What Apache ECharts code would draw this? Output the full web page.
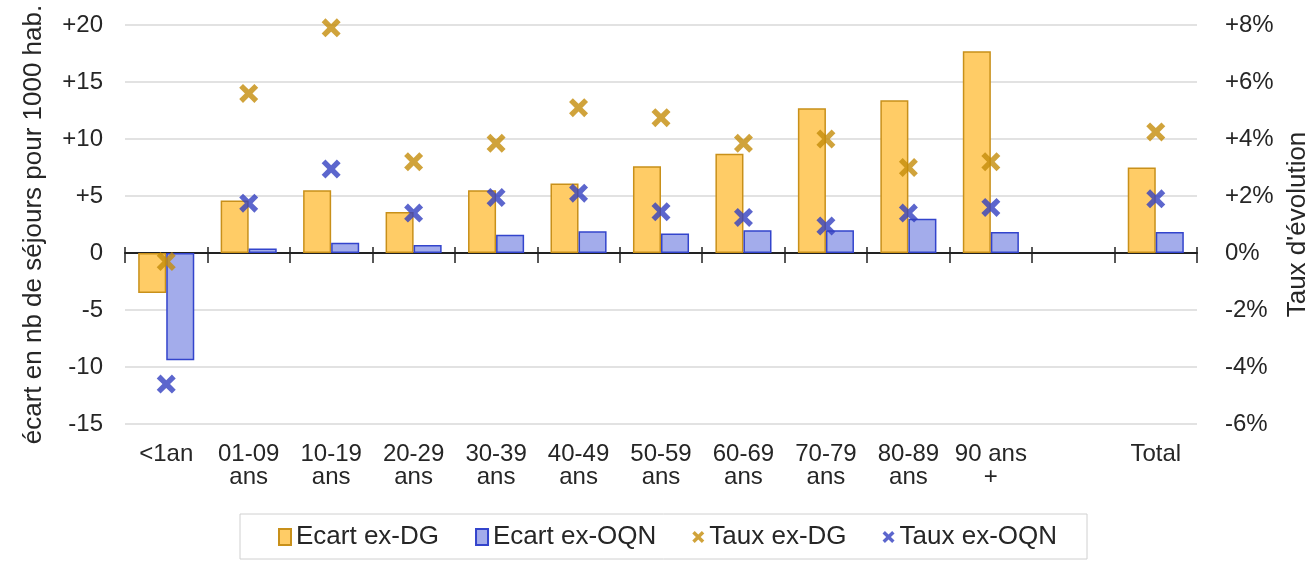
<!DOCTYPE html>
<html>
<head>
<meta charset="utf-8">
<script src="https://cdn.jsdelivr.net/npm/echarts@6/dist/echarts.min.js"></script>
<style>
  html, body { margin: 0; padding: 0; background: #fff; }
  #chart { width: 1316px; height: 562px; }
</style>
</head>
<body>
<div id="chart"></div>
<script>
// categories (the empty one is the gap before Total)
var categories = ['<1an', '01-09\nans', '10-19\nans', '20-29\nans', '30-39\nans', '40-49\nans',
  '50-59\nans', '60-69\nans', '70-79\nans', '80-89\nans', '90 ans\n+', '', 'Total'];

// écart en nb de séjours pour 1000 hab. (left axis)
var ecartDG  = [-3.5, 4.6, 5.5, 3.6, 5.5, 6.1, 7.6, 8.7, 12.7, 13.4, 17.7, null, 7.5];
var ecartOQN = [-9.4, 0.4, 0.9, 0.7, 1.6, 1.9, 1.7, 2.0, 2.0, 3.0, 1.85, null, 1.85];

// taux d'évolution en % (right axis)
var tauxDG  = [-0.3, 5.6, 7.9, 3.2, 3.85, 5.1, 4.75, 3.85, 4.0, 3.0, 3.2, null, 4.25];
var tauxOQN = [-4.6, 1.75, 2.95, 1.4, 1.95, 2.1, 1.45, 1.25, 0.95, 1.4, 1.6, null, 1.9];

var leftTicks = {min: -15, max: 20, interval: 5};
var rightTicks = {min: -6, max: 8, interval: 2};

var FONT = '"Liberation Sans", Arial, sans-serif';
var TXT = '#262626';
var crossPath = 'path://M0,2L2,0L5,3L8,0L10,2L7,5L10,8L8,10L5,7L2,10L0,8L3,5Z';

var chart = echarts.init(document.getElementById('chart'), null, {renderer: 'canvas'});

chart.setOption({
  animation: false,
  textStyle: {fontFamily: FONT},
  grid: {left: 125, right: 119, top: 25, bottom: 138, outerBoundsMode: 'none'},
  legend: {
    data: [
      {name: 'Ecart ex-DG', icon: 'rect'},
      {name: 'Ecart ex-OQN', icon: 'rect'},
      {name: 'Taux ex-DG'},
      {name: 'Taux ex-OQN'}
    ],
    left: 240, top: 514,
    padding: [10, 30, 9, 38],
    borderColor: '#d0d0d0', borderWidth: 1,
    itemGap: 36, itemWidth: 12, itemHeight: 16,
    textStyle: {fontFamily: FONT, fontSize: 26, color: TXT}
  },
  xAxis: [
    { // labels at the bottom
      type: 'category', data: categories, position: 'bottom',
      axisLine: {show: false, onZero: false},
      axisTick: {show: false},
      axisLabel: {fontSize: 24, color: TXT, lineHeight: 23, margin: 19, interval: 0}
    },
    { // zero line, ticks going up
      type: 'category', data: categories, position: 'top',
      axisLine: {show: true, onZero: true, lineStyle: {color: '#222', width: 2}},
      axisTick: {show: true, length: 6, lineStyle: {color: '#222', width: 1.5}},
      axisLabel: {show: false}
    },
    { // ticks going down
      type: 'category', data: categories, position: 'bottom',
      axisLine: {show: false, onZero: true},
      axisTick: {show: true, length: 10, lineStyle: {color: '#222', width: 1.5}},
      axisLabel: {show: false}
    }
  ],
  yAxis: [
    {
      type: 'value', position: 'left',
      min: leftTicks.min, max: leftTicks.max, interval: leftTicks.interval,
      axisLine: {show: false}, axisTick: {show: false},
      splitLine: {lineStyle: {color: '#d9d9d9', width: 1.5}},
      axisLabel: {
        fontSize: 24, color: TXT, margin: 22,
        formatter: function (v) { return v > 0 ? '+' + v : String(v); }
      },
      name: 'écart en nb de séjours pour 1000 hab.',
      nameLocation: 'middle', nameGap: 78,
      nameTextStyle: {fontSize: 26, color: TXT}
    },
    {
      type: 'value', position: 'right',
      min: rightTicks.min, max: rightTicks.max, interval: rightTicks.interval,
      axisLine: {show: false}, axisTick: {show: false},
      splitLine: {show: false},
      axisLabel: {
        fontSize: 24, color: TXT, margin: 28,
        formatter: function (v) { return (v > 0 ? '+' + v : String(v)) + '%'; }
      },
      name: "Taux d'évolution",
      nameLocation: 'middle', nameGap: 84,
      nameTextStyle: {fontSize: 26, color: TXT}
    }
  ],
  series: [
    {
      name: 'Ecart ex-DG', type: 'bar', data: ecartDG,
      barGap: '0%', barCategoryGap: '32%',
      itemStyle: {color: '#FFCC66', borderColor: '#C8901A', borderWidth: 1.5}
    },
    {
      name: 'Ecart ex-OQN', type: 'bar', data: ecartOQN,
      itemStyle: {color: '#A3ACEB', borderColor: '#3344CC', borderWidth: 1.5}
    },
    {
      name: 'Taux ex-DG', type: 'scatter', yAxisIndex: 1, data: tauxDG,
      symbol: crossPath, symbolSize: 19, z: 5,
      itemStyle: {color: '#C48C0A'}
    },
    {
      name: 'Taux ex-OQN', type: 'scatter', yAxisIndex: 1, data: tauxOQN,
      symbol: crossPath, symbolSize: 19, z: 5,
      itemStyle: {color: '#3340C0'}
    }
  ]
});
</script>
</body>
</html>
